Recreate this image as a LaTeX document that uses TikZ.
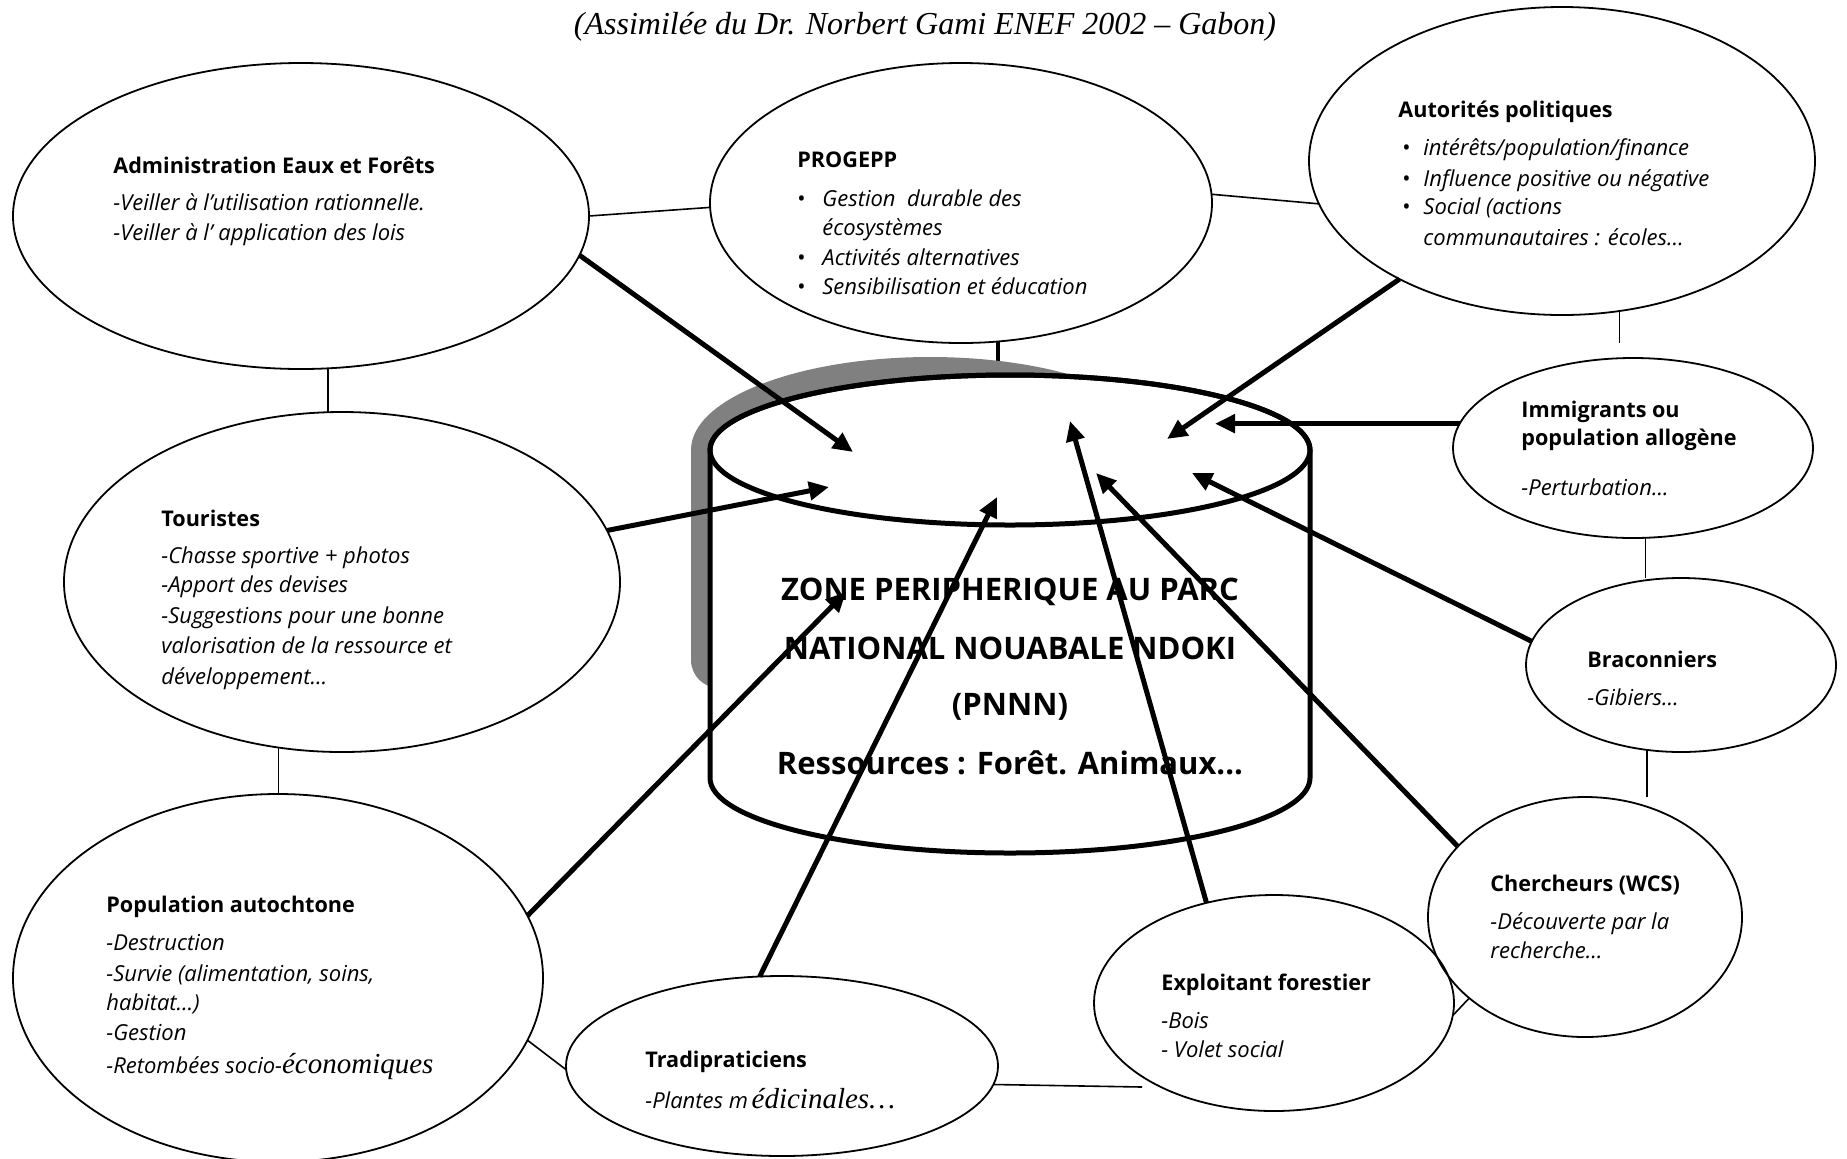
\documentclass[tikz,border=0pt]{standalone}
\usepackage{fontspec}
\setmainfont{Open Sans}
\newfontfamily\serifit{Liberation Serif}
\usetikzlibrary{arrows.meta,shapes.geometric}
\definecolor{shadowgray}{RGB}{128,128,128}
\begin{document}
\begin{tikzpicture}[x=0.5pt,y=0.5pt,
  bubble/.style={draw, ellipse, line width=0.9pt, inner sep=0pt, outer sep=0pt},
  link/.style={line width=0.8pt},
  thickarrow/.style={line width=2.5pt, -{Triangle[length=10pt,width=9pt]}},
  head/.style={anchor=mid west, inner sep=0pt, font=\fontsize{10.8}{13}\selectfont\bfseries},
  body/.style={anchor=mid west, inner sep=0pt, font=\fontsize{11}{13}\selectfont\itshape},
  bul/.style={anchor=mid west, inner sep=0pt, font=\fontsize{11}{13}\selectfont},
  zone/.style={anchor=mid, inner sep=0pt, font=\fontsize{15.5}{18}\selectfont\bfseries},
]
\useasboundingbox (0,0) rectangle (1847,-1158);

% title
\node[font=\serifit\itshape\fontsize{16}{19}\selectfont, inner sep=0pt] (title) at (925,-27) {(Assimilée du Dr. Norbert Gami ENEF 2002 – Gabon)};

% ellipses
\node[bubble, minimum width=288pt, minimum height=153pt] (admin) at (301,-216) {};
\node[bubble, minimum width=251pt, minimum height=140pt] (progepp) at (961,-203) {};
\node[bubble, minimum width=253pt, minimum height=154pt] (autor) at (1562,-161) {};
\node[bubble, minimum width=180pt, minimum height=90pt] (immig) at (1633,-448) {};
\node[bubble, minimum width=155pt, minimum height=87pt] (brac) at (1681,-665) {};
\node[bubble, minimum width=157pt, minimum height=120pt] (cherch) at (1585,-917) {};
\node[bubble, minimum width=180pt, minimum height=108pt] (exploit) at (1274,-1003) {};
\node[bubble, minimum width=216pt, minimum height=90pt] (tradi) at (782,-1066) {};
\node[bubble, minimum width=265pt, minimum height=184pt] (popu) at (278,-978) {};
\node[bubble, minimum width=278pt, minimum height=170pt] (tour) at (342,-582) {};

% thin links
\draw[link] (admin.0) -- (progepp.181);
\draw[link] (progepp.2.5) -- (autor.190);
\draw[link] (admin.-80) -- (admin.-80 |- tour.north);
\draw[link] (tour.-111) -- (tour.-111 |- popu.north);
\draw[link, shorten >=7.5pt] (autor.-69) -- (autor.-69 |- immig.north);
\draw[link] (immig.-82) -- (immig.-82 |- brac.north);
\draw[link] (brac.-112) -- (brac.-112 |- cherch.north);
\draw[link] (exploit.-4) -- (cherch.215);
\draw[link] (popu.-14) -- (tradi.181);
\coordinate (te) at (1142,-1087);
\draw[link] (tradi.-5) -- (te);

% progepp to cylinder
\coordinate (cyltop) at (1010,-375);
\draw[line width=2pt] (progepp.-75) -- (progepp.-75 |- cyltop);

% shadow
\fill[shadowgray] (691,-450) -- (691,-660) arc[start angle=180,end angle=270,radius=28]
  -- (1169,-688) -- (1169,-450) arc[start angle=0,end angle=180,x radius=239,y radius=93] -- cycle;

% cylinder
\filldraw[fill=white, line width=2.5pt] (710,-450) -- (710,-778)
  arc[start angle=180,end angle=360,x radius=300,y radius=75] -- (1310,-450)
  arc[start angle=0,end angle=180,x radius=300,y radius=75] -- cycle;
\draw[line width=2.5pt] (1010,-450) ellipse[x radius=300, y radius=75];

\node[zone] (z1) at (1010,-595) {ZONE PERIPHERIQUE AU PARC};
\node[zone] (z2) at (1010,-654) {NATIONAL NOUABALE NDOKI};
\node[zone] (z3) at (1010,-710) {(PNNN)};
\node[zone] (z4) at (1010,-769) {Ressources : Forêt. Animaux...};

% texts
\node[head] (admin-h) at (113,-168) {Administration Eaux et Forêts};
\node[body] (admin-1) at (113,-205) {-Veiller à l’utilisation rationnelle.};
\node[body] (admin-2) at (113,-235) {-Veiller à l’ application des lois};

\node[head] (prog-h) at (797,-162) {PROGEPP};
\node[bul] (prog-b1) at (797,-201) {\textbullet};
\node[body] (prog-1) at (822,-201) {Gestion\ \ durable des};
\node[body] (prog-1b) at (822,-230) {écosystèmes};
\node[bul] (prog-b2) at (797,-260) {\textbullet};
\node[body] (prog-2) at (822,-260) {Activités alternatives};
\node[bul] (prog-b3) at (797,-289) {\textbullet};
\node[body] (prog-3) at (822,-289) {Sensibilisation et éducation};

\node[head] (aut-h) at (1398,-112) {Autorités politiques};
\node[bul] (aut-b1) at (1402,-150) {\textbullet};
\node[body] (aut-1) at (1423,-150) {intérêts/population/finance};
\node[bul] (aut-b2) at (1402,-181) {\textbullet};
\node[body] (aut-2) at (1423,-181) {Influence positive ou négative};
\node[bul] (aut-b3) at (1402,-209) {\textbullet};
\node[body] (aut-3) at (1423,-209) {Social (actions};
\node[body] (aut-3b) at (1423,-240) {communautaires : écoles…};

\node[head] (imm-h1) at (1521,-412) {Immigrants ou};
\node[head] (imm-h2) at (1521,-440) {population allogène};
\node[body] (imm-1) at (1521,-490) {-Perturbation...};

\node[head] (bra-h) at (1587,-662) {Braconniers};
\node[body] (bra-1) at (1587,-700) {-Gibiers…};

\node[head] (che-h) at (1490,-886) {Chercheurs (WCS)};
\node[body] (che-1) at (1490,-924) {-Découverte par la};
\node[body] (che-2) at (1490,-953) {recherche…};

\node[head] (exp-h) at (1161,-985) {Exploitant forestier};
\node[body] (exp-1) at (1161,-1023) {-Bois};
\node[body] (exp-2) at (1161,-1052) {- Volet social};

\node[head] (tra-h) at (645,-1062) {Tradipraticiens};
\node[body] (tra-1) at (645,-1103) {-Plantes m\,{\serifit\fontsize{14.5}{17}\selectfont édicinales…}};

\node[head] (pop-h) at (106,-907) {Population autochtone};
\node[body] (pop-1) at (106,-945) {-Destruction};
\node[body] (pop-2) at (106,-976) {-Survie (alimentation, soins,};
\node[body] (pop-3) at (106,-1005) {habitat…)};
\node[body] (pop-4) at (106,-1035) {-Gestion};
\node[body] (pop-5) at (106,-1068) {-Retombées socio-{\serifit\fontsize{14.5}{17}\selectfont économiques}};

\node[head] (tou-h) at (161,-521) {Touristes};
\node[body] (tou-1) at (161,-558) {-Chasse sportive + photos};
\node[body] (tou-2) at (161,-587) {-Apport des devises};
\node[body] (tou-3) at (161,-618) {-Suggestions pour une bonne};
\node[body] (tou-4) at (161,-648) {valorisation de la ressource et};
\node[body] (tou-5) at (161,-679) {développement…};

% arrows to the zone
\coordinate (t1) at (853,-452);
\coordinate (t2) at (1167,-439);
\coordinate (t3) at (1215,-425);
\coordinate (t4) at (829,-487);
\coordinate (t5) at (1192,-473);
\coordinate (t6) at (1096,-473);
\coordinate (t7) at (1070,-421);
\coordinate (t8) at (997,-497);
\coordinate (t9) at (846,-592);
\draw[thickarrow] (admin.-8) -- (t1);
\draw[thickarrow] (autor.-144) -- (t2);
\draw[thickarrow] (immig.172) -- (t3 |- immig.172);
\draw[thickarrow] (tour.11) -- (t4);
\draw[thickarrow] (brac.171) -- (t5);
\draw[thickarrow] (cherch.151) -- (t6);
\draw[thickarrow] (exploit.124) -- (t7);
\draw[thickarrow] (tradi.104) -- (t8);
\draw[thickarrow] (popu.14) -- (t9);
\end{tikzpicture}
\end{document}
